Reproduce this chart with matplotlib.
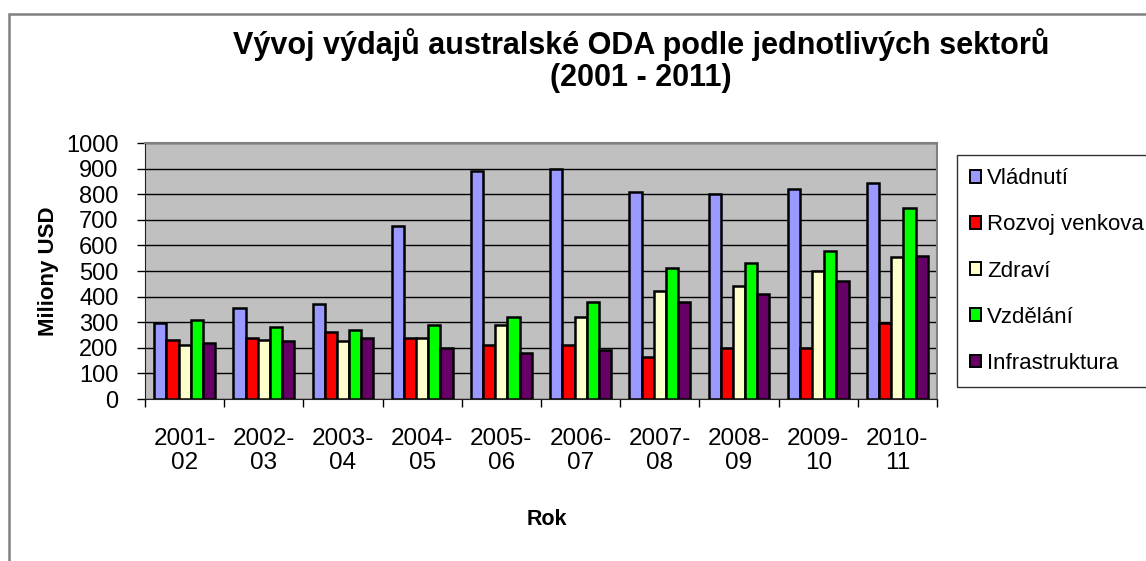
import matplotlib
matplotlib.use("Agg")
import matplotlib.pyplot as plt
from matplotlib.patches import Rectangle
import numpy as np

plt.rcParams['font.family'] = ['Liberation Sans', 'DejaVu Sans']

# data (millions of USD)
roky = ["2001-\n02", "2002-\n03", "2003-\n04", "2004-\n05", "2005-\n06",
        "2006-\n07", "2007-\n08", "2008-\n09", "2009-\n10", "2010-\n11"]
vladnuti = [295, 355, 370, 675, 890, 900, 810, 800, 820, 845]
rozvoj_venkova = [230, 240, 260, 240, 210, 210, 165, 200, 200, 295]
zdravi = [210, 230, 225, 240, 290, 320, 420, 440, 500, 555]
vzdelani = [310, 280, 270, 290, 320, 380, 510, 530, 580, 745]
infrastruktura = [220, 225, 240, 200, 180, 190, 380, 410, 460, 560]

sektory = ["Vládnutí", "Rozvoj venkova", "Zdraví", "Vzdělání", "Infrastruktura"]
barvy = ["#9999FF", "#FF0000", "#FFFFCC", "#00FF00", "#660066"]

fig = plt.figure(figsize=(11.46, 5.61), dpi=100)

# outer chart frame (runs off the right and bottom of the picture)
fig.patches.append(Rectangle((9 / 1146, -0.1), 1.2, 1 - 14 / 561 + 0.1,
                             transform=fig.transFigure, fill=False,
                             edgecolor="#808080", linewidth=1.8))

ax = fig.add_axes([145 / 1146, 1 - 399 / 561, 792 / 1146, 256 / 561])
ax.set_facecolor("#C0C0C0")

x = np.arange(len(roky))
sirka = 0.154
serie = [vladnuti, rozvoj_venkova, zdravi, vzdelani, infrastruktura]
for i, (hodnoty, nazev, barva) in enumerate(zip(serie, sektory, barvy)):
    ax.bar(x + (i - 2) * sirka, hodnoty, width=sirka, color=barva,
           edgecolor="black", linewidth=1.8, label=nazev, zorder=3)

ax.set_xlim(-0.5, len(roky) - 0.5)
ax.set_ylim(0, 1000)
ax.set_yticks(range(0, 1001, 100))
ax.yaxis.grid(True, color="black", linewidth=1, zorder=1)

# popisky uprostred skupin, carky mezi skupinami
ax.set_xticks(x)
ax.set_xticklabels(roky, fontsize=17.5, linespacing=1.1)
ax.set_xticks(np.arange(-0.5, len(roky), 1), minor=True)
ax.tick_params(axis="x", which="major", length=0, pad=21)
ax.tick_params(axis="x", which="minor", length=6, width=1, direction="out")
ax.tick_params(axis="y", labelsize=17, length=6, width=1, pad=13)

for s in ["top", "right"]:
    ax.spines[s].set_color("#808080")
    ax.spines[s].set_linewidth(1.5)
ax.spines["left"].set_color("#202020")
ax.spines["bottom"].set_color("#202020")

ax.set_ylabel("Miliony USD", fontsize=16, fontweight="bold")
ax.yaxis.set_label_coords((59 - 145) / 792, 0.5)
ax.set_xlabel("Rok", fontsize=15.5, fontweight="bold")
ax.xaxis.set_label_coords((547 - 145) / 792, (399 - 509) / 256)

fig.text(641 / 1146, 1 - 28 / 561,
         "Vývoj výdajů australské ODA podle jednotlivých sektorů\n(2001 - 2011)",
         ha="center", va="top", fontsize=22, fontweight="bold", linespacing=1.1)

leg = fig.legend(loc="upper left", bbox_to_anchor=(957 / 1146, 1 - 155 / 561),
                 fontsize=16, frameon=True, fancybox=False, edgecolor="black",
                 handlelength=0.5, handleheight=0.5, handletextpad=0.25,
                 labelspacing=1.13, borderpad=0.6, borderaxespad=0)
leg.get_frame().set_linewidth(1)
for h in leg.legend_handles:
    h.set_linewidth(1.4)

fig.savefig("out.png", dpi=100)
